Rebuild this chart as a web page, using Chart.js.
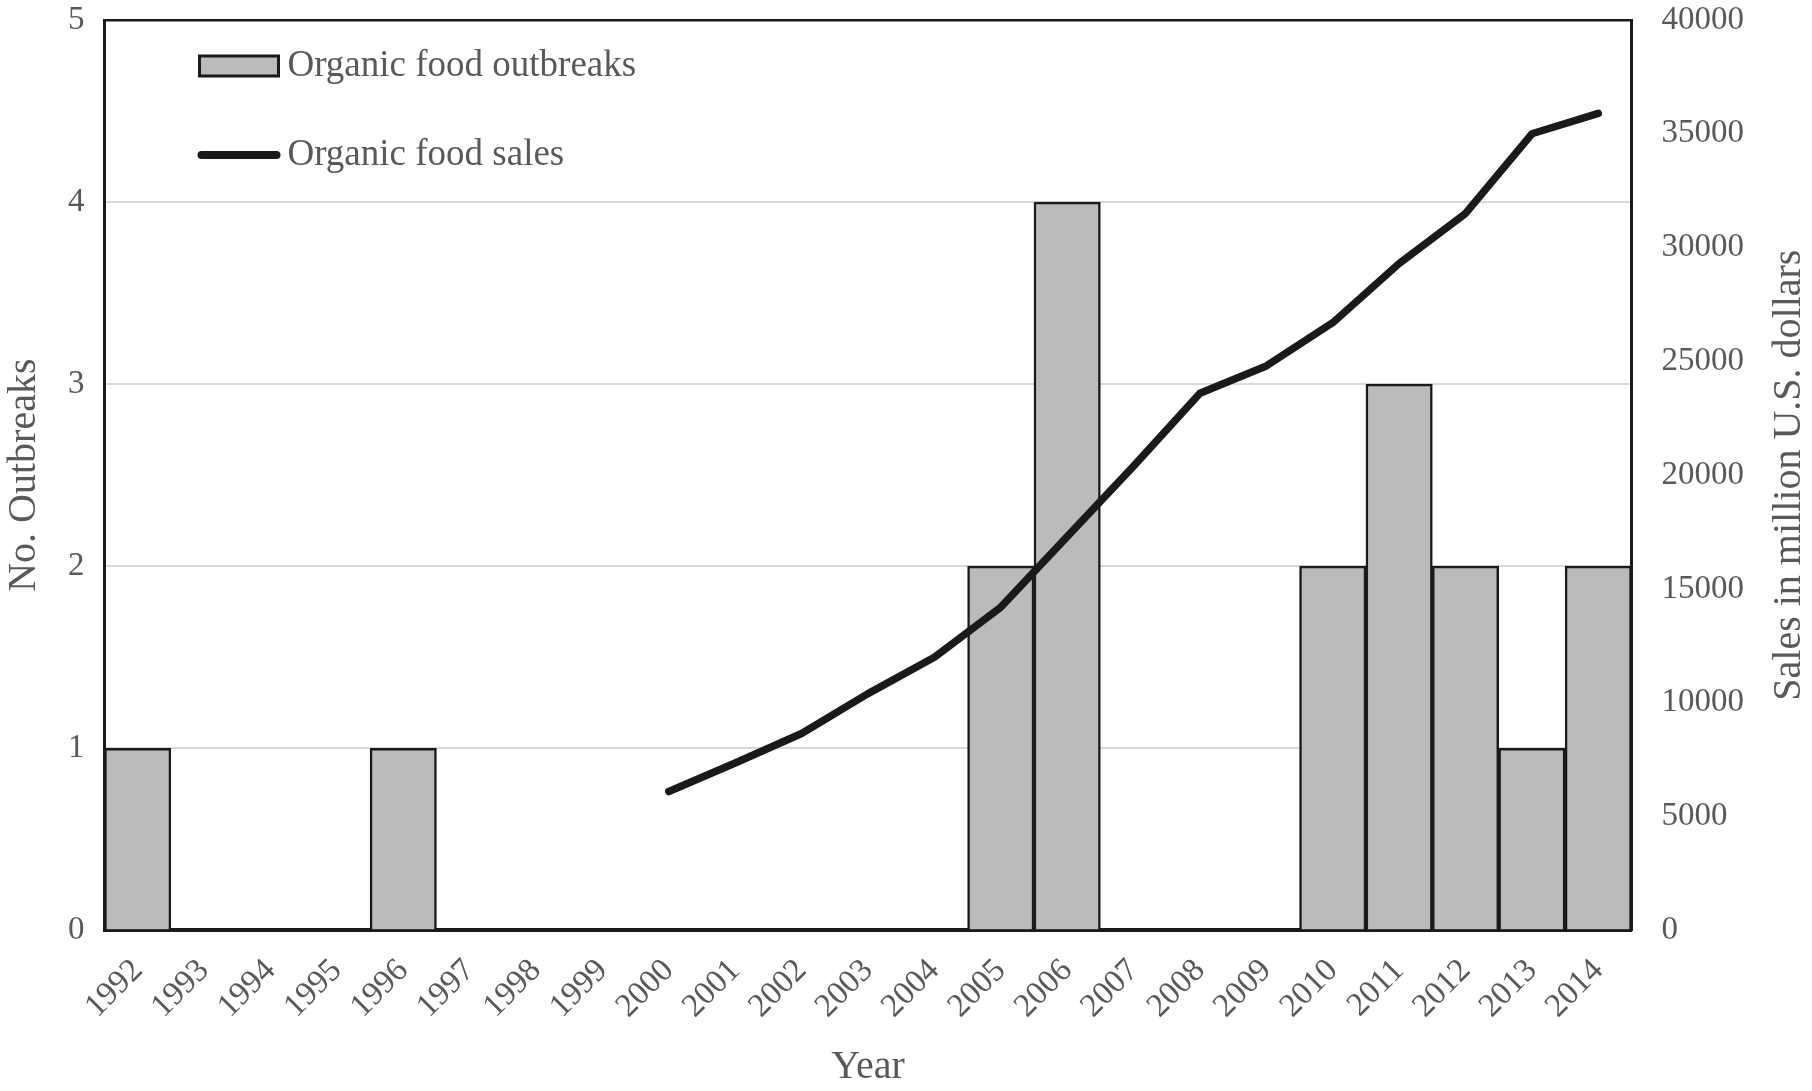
<!DOCTYPE html>
<html>
<head>
<meta charset="utf-8">
<script src="https://cdn.jsdelivr.net/npm/chart.js@4/dist/chart.umd.min.js"></script>
<style>
  html, body { margin: 0; padding: 0; background: #fff; }
  #wrap { width: 1812px; height: 1091px; }
</style>
</head>
<body>
<div id="wrap"><canvas id="chart" width="1812" height="1091"></canvas></div>
<script>
// data
const years = ['1992','1993','1994','1995','1996','1997','1998','1999','2000','2001','2002','2003',
               '2004','2005','2006','2007','2008','2009','2010','2011','2012','2013','2014'];
const outbreaks = [1,0,0,0,1,0,0,0,0,0,0,0,0,2,4,0,0,0,2,3,2,1,2];
const sales = [null,null,null,null,null,null,null,null,
               6100,7350,8650,10400,12000,14200,17300,20400,23600,24800,26700,29300,31500,35000,35900];
const leftTicks = [0,1,2,3,4,5];
const rightTicks = [0,5000,10000,15000,20000,25000,30000,35000,40000];

const SERIF = '"Liberation Serif", "Times New Roman", serif';
const TXT = '#595959';

// legend inside plot + right axis title reading bottom-to-top
const extras = {
    id: 'extras',
    afterDraw(chart) {
        const ctx = chart.ctx;
        const a = chart.chartArea;
        ctx.save();
        // legend
        const lx = a.left + 95;
        ctx.fillStyle = '#bbbbbb';
        ctx.strokeStyle = '#1a1a1a';
        ctx.lineWidth = 3;
        ctx.fillRect(lx, a.top + 36, 79, 20);
        ctx.strokeRect(lx, a.top + 36, 79, 20);
        ctx.beginPath();
        ctx.lineCap = 'round';
        ctx.lineWidth = 8;
        ctx.moveTo(lx + 2, a.top + 135);
        ctx.lineTo(lx + 77, a.top + 135);
        ctx.stroke();
        ctx.fillStyle = TXT;
        ctx.font = '37px ' + SERIF;
        ctx.textBaseline = 'middle';
        ctx.fillText('Organic food outbreaks', lx + 88, a.top + 46);
        ctx.fillText('Organic food sales', lx + 88, a.top + 135);
        // right title
        ctx.font = '40px ' + SERIF;
        ctx.textAlign = 'center';
        ctx.translate(1789, (a.top + a.bottom) / 2);
        ctx.rotate(-Math.PI / 2);
        ctx.fillText('Sales in million U.S. dollars', 0, 0);
        ctx.restore();
    }
};

// tick padding would otherwise be added above the plot too
const noVPad = s => { s.paddingTop = 0; s.paddingBottom = 0; };

new Chart(document.getElementById('chart'), {
    data: {
        labels: years,
        datasets: [
            {
                type: 'line',
                label: 'Organic food sales',
                data: sales,
                yAxisID: 'y1',
                borderColor: '#1a1a1a',
                borderWidth: 7.5,
                borderCapStyle: 'round',
                borderJoinStyle: 'round',
                pointRadius: 0,
                tension: 0,
                order: 0
            },
            {
                type: 'bar',
                label: 'Organic food outbreaks',
                data: outbreaks,
                yAxisID: 'y',
                backgroundColor: '#bbbbbb',
                borderColor: '#1a1a1a',
                borderWidth: 2.5,
                borderSkipped: 'bottom',
                barPercentage: 1,
                categoryPercentage: 1,
                order: 1
            }
        ]
    },
    options: {
        responsive: false,
        animation: false,
        layout: { padding: { left: 0, right: 38, top: 20, bottom: 0 } },
        plugins: { legend: { display: false }, tooltip: { enabled: false } },
        scales: {
            x: {
                grid: { display: false },
                border: { color: '#1a1a1a', width: 4 },
                ticks: {
                    color: TXT, font: { family: SERIF, size: 33 },
                    maxRotation: 45, minRotation: 45, padding: 13, autoSkip: false
                },
                title: {
                    display: true, text: 'Year', color: TXT,
                    font: { family: SERIF, size: 40 }, padding: { top: 4, bottom: 0 }
                }
            },
            y: {
                position: 'left',
                min: 0, max: 5,
                afterBuildTicks: s => { s.ticks = leftTicks.map(v => ({ value: v })); },
                afterFit: noVPad,
                grid: {
                    color: c => c.tick.value === 5 ? '#1a1a1a' : (c.tick.value === 0 ? 'rgba(0,0,0,0)' : '#d9d9d9'),
                    lineWidth: c => c.tick.value === 5 ? 2.5 : 2,
                    drawTicks: false
                },
                border: { color: '#1a1a1a', width: 3 },
                ticks: { color: TXT, font: { family: SERIF, size: 33 }, padding: 20 },
                title: {
                    display: true, text: 'No. Outbreaks', color: TXT,
                    font: { family: SERIF, size: 40 }, padding: { top: 0, bottom: 0 }
                }
            },
            y1: {
                position: 'right',
                min: 0, max: 40000,
                afterBuildTicks: s => { s.ticks = rightTicks.map(v => ({ value: v })); },
                afterFit: noVPad,
                grid: { display: false, drawTicks: false },
                border: { color: '#1a1a1a', width: 3 },
                ticks: {
                    color: TXT, font: { family: SERIF, size: 33 }, padding: 30,
                    callback: v => String(v)
                }
            }
        }
    },
    plugins: [extras]
});
</script>
</body>
</html>
